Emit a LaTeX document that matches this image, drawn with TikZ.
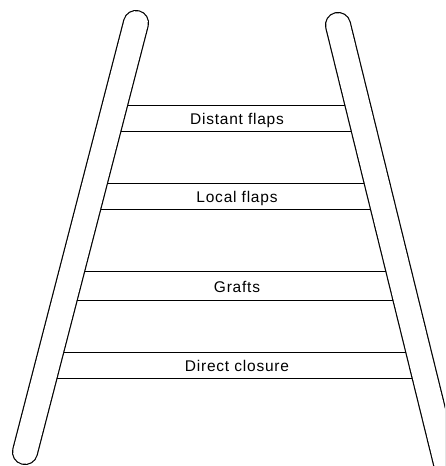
\documentclass[tikz,border=0pt]{standalone}
\usepackage{fontspec}
\setmainfont{Liberation Sans}
\begin{document}
\begin{tikzpicture}[x=1pt,y=1pt,
  rung/.style={line width=1.1pt},
  railout/.style={line width=26.2pt, line cap=round},
  railin/.style={white, line width=23.8pt, line cap=round},
  lbl/.style={font=\fontsize{15.5}{18}\selectfont\addfontfeatures{LetterSpace=5}, inner sep=0pt, anchor=base}]
\useasboundingbox (0,0) rectangle (445,466);
\clip (0,0) rectangle (445,466);
% rungs (from rail axis to rail axis; rails cover the ends)
\draw[rung] (114.7,360.7) -- (357.8,360.7);
\draw[rung] (108.0,334.7) -- (364.2,334.7);
\draw[rung] (94.5,282.7) -- (377.0,282.7);
\draw[rung] (87.8,256.7) -- (383.4,256.7);
\draw[rung] (71.7,194.3) -- (398.8,194.3);
\draw[rung] (64.1,165.3) -- (406.0,165.3);
\draw[rung] (50.7,113.3) -- (418.8,113.3);
\draw[rung] (44.1,87.7) -- (425.1,87.7);
% rails
\coordinate (LT) at (136,443);
\coordinate (LB) at (25,14);
\coordinate (RT) at (338,441);
\coordinate (RB) at (461.5,-60);
\draw[railout] (LT) -- (LB);
\draw[railin] (LT) -- (LB);
\draw[railout] (RT) -- (RB);
\draw[railin] (RT) -- (RB);
% labels
\node[lbl] (distant) at (237,341.7) {Distant flaps};
\node[lbl] (local) at (237,263.3) {Local flaps};
\node[lbl] (grafts) at (237,173.7) {Grafts};
\node[lbl] (direct) at (237,94.7) {Direct closure};
\end{tikzpicture}
\end{document}
